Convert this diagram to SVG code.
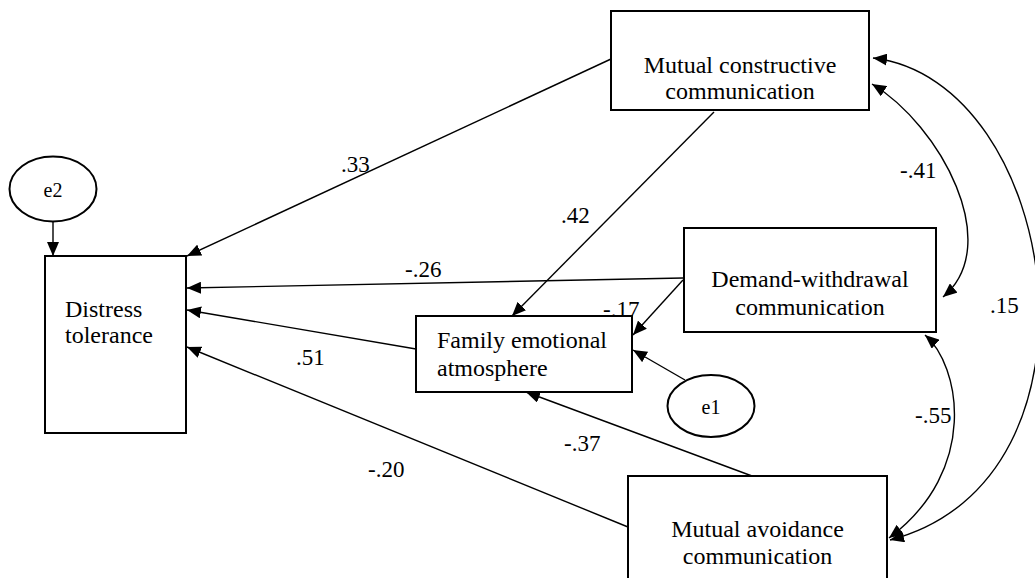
<svg xmlns="http://www.w3.org/2000/svg" width="1035" height="578" viewBox="0 0 1035 578">
<defs>
<marker id="ah" viewBox="0 0 14 12" refX="14" refY="6" markerWidth="14" markerHeight="12" markerUnits="userSpaceOnUse" orient="auto-start-reverse">
<path d="M0,0 L14,6 L0,12 z" fill="#000"/>
</marker>
<style>
.box{fill:#fff;stroke:#000;stroke-width:2}
.ell{fill:#fff;stroke:#000;stroke-width:2}
.t{font-family:"Liberation Serif","Times New Roman",serif;font-size:24px;fill:#000}
.c{text-anchor:middle}
.lbl{font-family:"Liberation Serif","Times New Roman",serif;font-size:23px;fill:#000}
.ln{fill:none;stroke:#000;stroke-width:1.4;marker-end:url(#ah)}
.cv{fill:none;stroke:#000;stroke-width:1.4;marker-start:url(#ah);marker-end:url(#ah)}
</style>
</defs>
<rect width="1035" height="578" fill="#fff"/>
<g id="connectors">
<line class="ln" x1="53" y1="222" x2="53" y2="256"/>
<line class="ln" x1="611" y1="59" x2="187" y2="256"/>
<line class="ln" x1="683" y1="278" x2="187" y2="288"/>
<line class="ln" x1="416" y1="349" x2="187" y2="310"/>
<line class="ln" x1="628" y1="527" x2="187" y2="347"/>
<line class="ln" x1="714" y1="112" x2="512" y2="316"/>
<line class="ln" x1="683" y1="280" x2="633" y2="335"/>
<line class="ln" x1="685" y1="380" x2="633" y2="350"/>
<line class="ln" x1="752" y1="476" x2="526" y2="392"/>
<path class="cv" d="M872,84 C940,125 1005,245 943,297"/>
<path class="cv" d="M873,58 C1060,80 1120,480 890,540"/>
<path class="cv" d="M925,335 C960,365 980,470 889,538"/>
<text class="lbl" x="341" y="172">.33</text>
<text class="lbl" x="561" y="223">.42</text>
<text class="lbl" x="405" y="277">-.26</text>
<text class="lbl" x="603" y="317">-.17</text>
<text class="lbl" x="296" y="365">.51</text>
<text class="lbl" x="564" y="451">-.37</text>
<text class="lbl" x="368" y="477">-.20</text>
<text class="lbl" x="900" y="178">-.41</text>
<text class="lbl" x="915" y="423">-.55</text>
<text class="lbl" x="990" y="313">.15</text>
</g>
<g id="mutual-constructive">
<rect class="box" x="611" y="11" width="258" height="99"/>
<text class="t c" x="740" y="73">Mutual constructive</text>
<text class="t c" x="740" y="99">communication</text>
</g>
<g id="demand-withdrawal">
<rect class="box" x="684" y="228" width="252" height="104"/>
<text class="t c" x="810" y="287">Demand-withdrawal</text>
<text class="t c" x="810" y="315">communication</text>
</g>
<g id="mutual-avoidance">
<rect class="box" x="628" y="476" width="259" height="130"/>
<text class="t c" x="757.5" y="537">Mutual avoidance</text>
<text class="t c" x="757.5" y="564">communication</text>
</g>
<g id="family">
<rect class="box" x="416" y="316" width="216" height="76"/>
<text class="t" x="437" y="348">Family emotional</text>
<text class="t" x="437" y="376">atmosphere</text>
</g>
<g id="distress">
<rect class="box" x="45" y="256" width="141" height="177"/>
<text class="t" x="65" y="317">Distress</text>
<text class="t" x="65" y="343">tolerance</text>
</g>
<g id="e2">
<ellipse class="ell" cx="53" cy="189" rx="43.5" ry="32.5"/>
<text class="t c" x="53" y="197" style="font-size:20px">e2</text>
</g>
<g id="e1">
<ellipse class="ell" cx="711" cy="406" rx="43.5" ry="31"/>
<text class="t c" x="711" y="414" style="font-size:20px">e1</text>
</g>
</svg>
